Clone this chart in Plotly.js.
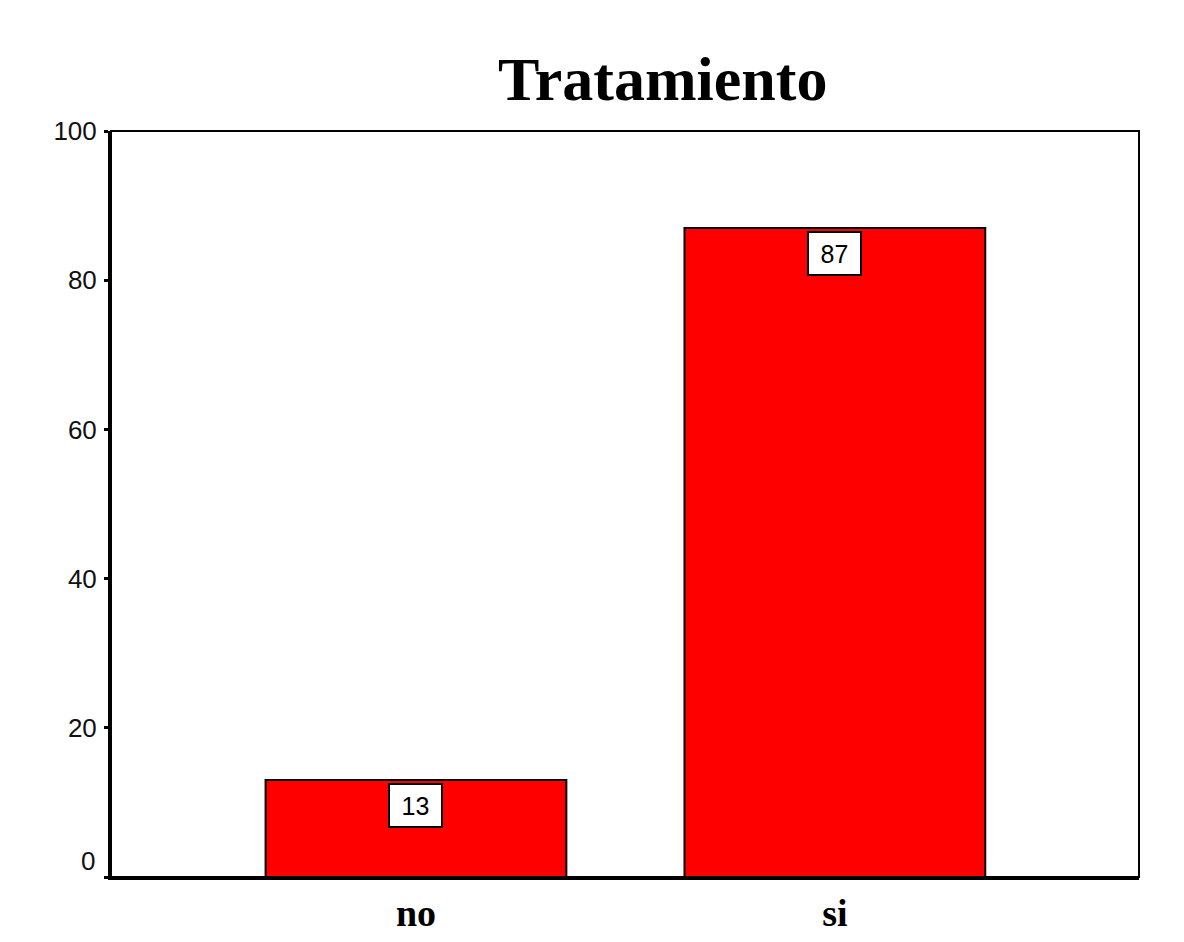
<!DOCTYPE html>
<html>
<head>
<meta charset="utf-8">
<script src="https://cdn.plot.ly/plotly-3.0.1.min.js"></script>
<style>
  html, body { margin: 0; padding: 0; background: #ffffff; }
  #chart { width: 1184px; height: 942px; }
</style>
</head>
<body>
<div id="chart"></div>
<script>
// Percent of cases by treatment status
const categories = ['no', 'si'];
const values = [13, 87];
const yTicks = [0, 20, 40, 60, 80, 100];

const tickFont = { family: 'Liberation Sans, Arial, sans-serif', size: 26, color: '#111111' };

const trace = {
  type: 'bar',
  x: [0, 1],
  y: values,
  width: 0.718,
  marker: { color: '#ff0000', line: { color: '#000000', width: 2 } },
  hoverinfo: 'skip'
};

// Value labels in small framed boxes just below each bar top
const labels = values.map((v, i) => ({
  x: i, y: v, xref: 'x', yref: 'y',
  text: String(v),
  showarrow: false,
  yanchor: 'top', xanchor: 'center',
  yshift: -3,
  width: 49, height: 39,
  bgcolor: '#ffffff',
  bordercolor: '#000000',
  borderwidth: 2,
  borderpad: 1,
  font: { family: 'Liberation Sans, Arial, sans-serif', size: 25, color: '#000000' }
}));

// The zero label sits a little above its tick
const zeroLabel = {
  x: 0, y: 0, xref: 'paper', yref: 'y',
  text: '0', showarrow: false,
  xanchor: 'right', yanchor: 'middle',
  xshift: -14, yshift: 16,
  font: tickFont
};

const title = {
  text: '<b>Tratamiento</b>',
  xref: 'paper', yref: 'paper',
  x: 0.536, y: 1, yshift: 52,
  xanchor: 'center', yanchor: 'middle',
  showarrow: false,
  font: { family: 'Liberation Serif, Times New Roman, serif', size: 62, color: '#000000' }
};

const layout = {
  width: 1184, height: 942,
  margin: { l: 111, r: 45, t: 131, b: 65, pad: 0 },
  paper_bgcolor: '#ffffff',
  plot_bgcolor: '#ffffff',
  showlegend: false,
  xaxis: {
    range: [-0.728, 1.726],
    tickvals: [0, 1],
    ticktext: categories.map(c => '<b>' + c + '</b>'),
    tickfont: { family: 'Liberation Serif, Times New Roman, serif', size: 38, color: '#000000' },
    ticks: '', showgrid: false, zeroline: false,
    showline: true, linecolor: '#000000', linewidth: 3,
    fixedrange: true
  },
  yaxis: {
    range: [0, 100],
    tickvals: yTicks,
    ticktext: yTicks.map(t => t === 0 ? '' : String(t)),
    tickfont: tickFont,
    ticks: 'outside', ticklen: 4, tickwidth: 3, tickcolor: '#000000',
    ticklabelstandoff: 2,
    showgrid: false, zeroline: false,
    showline: true, linecolor: '#000000', linewidth: 3,
    fixedrange: true
  },
  shapes: [{
    type: 'rect', xref: 'paper', yref: 'paper',
    x0: 0, x1: 1, y0: 0, y1: 1,
    line: { color: '#000000', width: 2 },
    fillcolor: 'rgba(0,0,0,0)',
    layer: 'above'
  }],
  annotations: [title, zeroLabel].concat(labels)
};

Plotly.newPlot('chart', [trace], layout, { displayModeBar: false, staticPlot: true });
</script>
</body>
</html>
